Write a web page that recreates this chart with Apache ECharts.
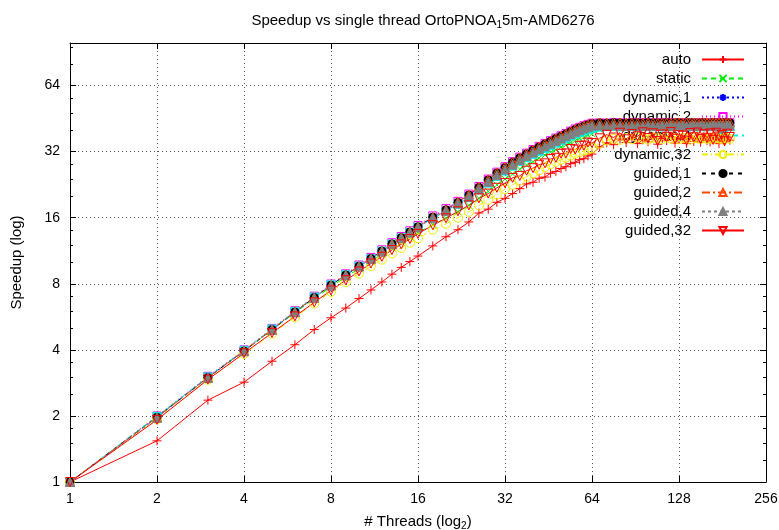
<!DOCTYPE html>
<html>
<head>
<meta charset="utf-8">
<script src="https://cdn.jsdelivr.net/npm/echarts@6/dist/echarts.min.js"></script>
<style>
html, body { margin: 0; padding: 0; background: #fff; overflow: hidden; }
#chart { width: 779px; height: 530px; }
</style>
</head>
<body>
<div id="chart"></div>
<script>
// número de hilos (eje x, log2)
const threads = [1, 2, 3, 4, 5, 6, 7, 8, 9, 10, 11, 12, 13, 14, 15, 16,
  18, 20, 22, 24, 26, 28, 30, 32, 34, 36, 38, 40, 42, 44, 46, 48,
  50, 52, 54, 56, 58, 60, 62, 64,
  68, 72, 76, 80, 84, 88, 92, 96, 100, 104, 108, 112, 116, 120, 124, 128,
  132, 136, 140, 144, 148, 152, 156, 160, 164, 168, 172, 176, 180, 184, 188, 192];

const autoData = [1.00, 1.54, 2.36, 2.85, 3.55, 4.22, 4.95, 5.60, 6.20, 6.85, 7.50, 8.15, 8.85, 9.50, 10.10, 10.70,
  11.9, 13.1, 14.1, 15.3, 16.8, 17.5, 18.8, 19.6, 20.6, 21.7, 22.8, 23.2, 24.2, 24.5, 25.5, 26.0,
  26.8, 27.3, 28.2, 28.6, 29.4, 29.7, 30.6, 31.2,
  33.6, 35.1, 34.4, 36.5, 35.2, 37.0, 34.8, 36.2, 35.5, 37.3, 34.6, 36.8, 35.9, 37.5, 35.0, 36.4,
  36.9, 34.9, 37.2, 35.6, 36.7, 35.3, 37.4, 36.0, 35.4, 37.1, 36.3, 34.8, 36.9, 35.7, 37.2, 36.1];

const staticData = [1.00, 1.99, 3.00, 3.95, 4.93, 5.90, 6.84, 7.75, 8.60, 9.38, 10.12, 10.90, 11.65, 12.35, 13.05, 13.70,
  14.9, 15.9, 17.0, 18.2, 19.6, 21.1, 22.6, 24.0, 25.3, 26.6, 27.8, 28.8, 29.9, 30.9, 31.8, 32.7,
  33.6, 34.4, 35.2, 36.0, 36.7, 37.4, 38.0, 38.6,
  40.4, 40.9, 41.2, 41.0, 41.3, 41.1, 41.2, 41.4, 41.0, 41.3, 41.2, 41.1, 41.4, 41.2, 41.3, 41.0,
  41.2, 41.4, 41.1, 41.3, 41.2, 41.0, 41.3, 41.2, 41.1, 41.3, 41.2, 41.4, 41.0, 41.2, 41.3, 41.1];

const dyn1Data = [1.00, 1.98, 3.00, 3.96, 4.95, 5.96, 6.94, 7.90, 8.79, 9.63, 10.44, 11.30, 12.18, 13.00, 13.80, 14.58,
  16.1, 17.4, 18.8, 20.3, 22.0, 23.7, 25.5, 27.0, 28.5, 29.9, 31.2, 32.3, 33.4, 34.5, 35.5, 36.5,
  37.4, 38.3, 39.3, 40.2, 40.9, 41.6, 42.2, 42.8,
  42.9, 43.0, 42.9, 43.0, 43.1, 42.9, 43.0, 43.0, 42.9, 43.1, 43.0, 42.9, 43.0, 43.1, 43.0, 42.9,
  43.0, 43.0, 43.1, 42.9, 43.0, 43.0, 42.9, 43.1, 43.0, 43.0, 42.9, 43.0, 43.1, 43.0, 42.9, 43.0];

const dyn2Data = [1.00, 2.00, 3.03, 4.00, 5.01, 6.03, 7.02, 7.98, 8.88, 9.74, 10.55, 11.42, 12.31, 13.14, 13.95, 14.75,
  16.3, 17.6, 19.0, 20.5, 22.2, 24.0, 25.8, 27.3, 28.8, 30.2, 31.5, 32.7, 33.8, 34.9, 35.9, 36.9,
  37.8, 38.7, 39.7, 40.6, 41.3, 42.0, 42.6, 43.1,
  43.2, 43.1, 43.3, 43.2, 43.1, 43.2, 43.3, 43.2, 43.1, 43.2, 43.2, 43.3, 43.1, 43.2, 43.2, 43.1,
  43.3, 43.2, 43.1, 43.2, 43.2, 43.3, 43.1, 43.2, 43.2, 43.1, 43.3, 43.2, 43.2, 43.1, 43.2, 43.3];

const dyn4Data = [1.00, 1.99, 3.01, 3.98, 4.98, 5.99, 6.96, 7.91, 8.79, 9.62, 10.42, 11.27, 12.14, 12.94, 13.72, 14.48,
  15.9, 17.1, 18.4, 19.8, 21.4, 23.0, 24.7, 26.1, 27.5, 28.8, 30.0, 31.1, 32.1, 33.1, 34.1, 35.0,
  35.9, 36.8, 37.7, 38.5, 39.2, 39.8, 40.4, 40.9,
  41.4, 41.6, 41.7, 41.5, 41.8, 41.6, 41.7, 41.9, 41.6, 41.7, 41.8, 41.5, 41.7, 41.9, 41.6, 41.7,
  41.8, 41.6, 41.7, 41.9, 41.5, 41.7, 41.8, 41.6, 41.7, 41.9, 41.6, 41.7, 41.8, 41.5, 41.7, 41.6];

const dyn32Data = [1.00, 1.93, 2.92, 3.83, 4.74, 5.62, 6.50, 7.35, 8.15, 8.90, 9.62, 10.30, 11.00, 11.65, 12.30, 12.90,
  14.1, 15.0, 16.0, 17.0, 18.2, 19.3, 20.4, 21.6, 22.6, 23.6, 24.6, 25.5, 26.3, 27.2, 28.0, 28.7,
  29.4, 30.1, 30.7, 31.3, 31.8, 32.3, 32.7, 33.1,
  34.8, 36.0, 36.6, 36.2, 36.9, 36.4, 37.1, 36.7, 36.3, 37.0, 36.8, 36.5, 37.2, 36.6, 36.9, 36.4,
  37.0, 36.7, 36.3, 37.1, 36.8, 36.5, 37.0, 36.6, 36.9, 36.4, 37.1, 36.7, 36.5, 37.0, 36.8, 36.6];

const gui1Data = [1.00, 1.97, 2.99, 3.95, 4.95, 5.95, 6.93, 7.88, 8.78, 9.62, 10.43, 11.28, 12.16, 12.98, 13.78, 14.56,
  16.1, 17.4, 18.8, 20.3, 22.0, 23.8, 25.6, 27.1, 28.6, 30.0, 31.3, 32.5, 33.6, 34.7, 35.7, 36.7,
  37.6, 38.5, 39.5, 40.4, 41.1, 41.8, 42.4, 43.0,
  43.3, 43.2, 43.4, 43.3, 43.2, 43.4, 43.3, 43.2, 43.4, 43.3, 43.2, 43.3, 43.4, 43.2, 43.3, 43.4,
  43.2, 43.3, 43.4, 43.3, 43.2, 43.3, 43.4, 43.2, 43.3, 43.4, 43.2, 43.3, 43.3, 43.4, 43.2, 43.3];

const gui2Data = [1.00, 1.97, 2.99, 3.96, 4.96, 5.96, 6.94, 7.89, 8.79, 9.63, 10.44, 11.29, 12.18, 12.99, 13.79, 14.57,
  16.1, 17.4, 18.9, 20.4, 22.1, 23.9, 25.7, 27.2, 28.7, 30.1, 31.4, 32.6, 33.7, 34.8, 35.8, 36.8,
  37.7, 38.6, 39.6, 40.5, 41.2, 41.9, 42.5, 43.1,
  43.4, 43.3, 43.5, 43.4, 43.3, 43.5, 43.4, 43.3, 43.5, 43.4, 43.3, 43.4, 43.5, 43.3, 43.4, 43.5,
  43.3, 43.4, 43.5, 43.4, 43.3, 43.4, 43.5, 43.3, 43.4, 43.5, 43.3, 43.4, 43.4, 43.5, 43.3, 43.4];

const gui4Data = [1.00, 1.96, 2.98, 3.94, 4.93, 5.93, 6.90, 7.85, 8.74, 9.58, 10.38, 11.22, 12.10, 12.90, 13.70, 14.47,
  15.9, 17.2, 18.6, 20.0, 21.6, 23.3, 25.0, 26.5, 27.9, 29.3, 30.6, 31.7, 32.8, 33.8, 34.8, 35.8,
  36.7, 37.6, 38.5, 39.4, 40.1, 40.8, 41.4, 42.0,
  42.1, 41.9, 42.2, 42.0, 41.8, 42.1, 42.0, 41.9, 42.2, 42.0, 41.8, 42.1, 42.0, 42.2, 41.9, 42.0,
  42.1, 41.8, 42.0, 42.2, 41.9, 42.1, 42.0, 41.8, 42.0, 42.2, 41.9, 42.1, 42.0, 41.8, 42.1, 42.0];

const gui32Data = [1.00, 1.92, 2.93, 3.86, 4.78, 5.68, 6.58, 7.46, 8.30, 9.10, 9.90, 10.62, 11.40, 12.10, 12.80, 13.50,
  14.8, 15.9, 17.1, 18.2, 19.6, 20.6, 21.9, 23.0, 24.3, 24.8, 26.2, 26.9, 27.9, 28.3, 29.6, 30.0,
  31.3, 31.4, 32.9, 32.7, 34.0, 34.1, 35.2, 35.0,
  36.8, 38.2, 37.1, 39.0, 36.4, 38.5, 37.6, 39.2, 36.9, 38.8, 35.8, 38.3, 37.4, 39.3, 36.6, 38.0,
  37.8, 35.9, 38.9, 37.2, 39.1, 36.5, 38.4, 37.0, 38.7, 36.2, 39.0, 37.5, 38.1, 35.7, 38.6, 37.3];

const yTicks = [1, 2, 4, 8, 16, 32, 64];

const FONT = 'Liberation Sans';

const PLUS = 'path://M5,0L5,10M0,5L10,5';
const CROSS = 'path://M0,0L10,10M10,0L0,10';
const STAR = 'path://M5,0L5,10M0,5L10,5M1.5,1.5L8.5,8.5M8.5,1.5L1.5,8.5';
const INVTRI = 'path://M0,0L10,0L5,8.66Z';

const seriesDefs = [
  {name: 'auto', data: autoData, color: '#ff0000', dash: 'solid', symbol: PLUS, fill: false, size: 9},
  {name: 'static', data: staticData, color: '#00ee00', dash: [5, 4], symbol: CROSS, fill: false, size: 7},
  {name: 'dynamic,1', data: dyn1Data, color: '#0000ff', dash: [2, 3], symbol: STAR, fill: false, size: 8},
  {name: 'dynamic,2', data: dyn2Data, color: '#ff00ff', dash: [1, 3], symbol: 'rect', fill: false, size: 8},
  {name: 'dynamic,4', data: dyn4Data, color: '#00eeee', dash: [6, 4], symbol: 'rect', fill: true, size: 8},
  {name: 'dynamic,32', data: dyn32Data, color: '#eeee00', dash: [6, 3, 1, 3], symbol: 'circle', fill: false, size: 9},
  {name: 'guided,1', data: gui1Data, color: '#000000', dash: [4, 5], symbol: 'circle', fill: true, size: 8},
  {name: 'guided,2', data: gui2Data, color: '#ff4500', dash: [8, 3, 2, 3], symbol: 'triangle', fill: false, size: 9},
  {name: 'guided,4', data: gui4Data, color: '#808080', dash: [3, 3], symbol: 'triangle', fill: true, size: 9},
  {name: 'guided,32', data: gui32Data, color: '#ff0000', dash: 'solid', symbol: INVTRI, fill: false, size: 9}
];

const series = seriesDefs.map(function (d) {
  return {
    name: d.name,
    type: 'line',
    data: threads.map(function (t, i) { return [t, d.data[i]]; }),
    symbol: d.symbol,
    symbolSize: d.size,
    showAllSymbol: true,
    color: d.color,
    lineStyle: {color: d.color, width: 1, type: d.dash},
    itemStyle: {
      color: d.fill ? d.color : 'rgba(0,0,0,0)',
      borderColor: d.color,
      borderWidth: 1
    },
    emphasis: {disabled: true},
    animation: false
  };
});

// una leyenda por serie para alinear a la derecha como gnuplot
const legends = seriesDefs.map(function (d, i) {
  return {
    data: [d.name],
    orient: 'vertical',
    right: 34,
    top: 52 + i * 19,
    padding: 0,
    align: 'right',
    itemWidth: 42,
    itemHeight: 9,
    z: 1,
    selectedMode: false,
    textStyle: {fontFamily: FONT, fontSize: 15, color: '#000', padding: [0, 6, 0, 0]}
  };
});

const labelStyle = {fontFamily: FONT, fontSize: 14, color: '#000'};

const chart = echarts.init(document.getElementById('chart'));
chart.setOption({
  backgroundColor: '#fff',
  animation: false,
  title: {
    text: '{a|Speedup vs single thread OrtoPNOA}{s|1}{a|5m-AMD6276}',
    left: 418,
    textAlign: 'center',
    top: 6,
    textStyle: {
      fontWeight: 'normal',
      rich: {
        a: {fontFamily: FONT, fontSize: 15, fontWeight: 'normal', color: '#000'},
        s: {fontFamily: FONT, fontSize: 10, fontWeight: 'normal', color: '#000', padding: [9, 0, 0, 0]}
      }
    }
  },
  legend: legends,
  grid: {left: 70, right: 13, top: 43, bottom: 48, outerBoundsMode: 'none'},
  xAxis: [{
    type: 'log',
    logBase: 2,
    min: 1,
    max: 256,
    name: '{a|# Threads (log}{s|2}{a|)}',
    nameLocation: 'middle',
    nameGap: 30,
    nameTextStyle: {
      rich: {
        a: {fontFamily: FONT, fontSize: 15, color: '#000'},
        s: {fontFamily: FONT, fontSize: 10, color: '#000', padding: [9, 0, 0, 0]}
      }
    },
    axisLine: {lineStyle: {color: '#000', width: 1}},
    axisTick: {inside: true, length: 6, lineStyle: {color: '#000'}},
    axisLabel: Object.assign({margin: 10, formatter: function (v) { return Math.round(v); }}, labelStyle),
    splitLine: {show: true, lineStyle: {color: '#555', type: [1, 3], width: 1}}
  }, {
    type: 'log',
    logBase: 2,
    min: 1,
    max: 256,
    position: 'top',
    axisLine: {lineStyle: {color: '#000', width: 1}},
    axisTick: {inside: true, length: 6, lineStyle: {color: '#000'}},
    axisLabel: {show: false},
    splitLine: {show: false}
  }],
  yAxis: [{
    type: 'log',
    logBase: 2,
    min: 1,
    max: 100,
    name: 'Speedup (log)',
    nameLocation: 'middle',
    nameGap: 46,
    nameTextStyle: {fontFamily: FONT, fontSize: 15, color: '#000'},
    axisLine: {lineStyle: {color: '#000', width: 1}},
    axisTick: {inside: true, length: 6, lineStyle: {color: '#000'}},
    minorTick: {show: true, splitNumber: 4, length: 3, lineStyle: {color: '#000'}},
    axisLabel: Object.assign({
      margin: 10,
      showMaxLabel: false,
      formatter: function (v) {
        const r = Math.round(v);
        return yTicks.indexOf(r) >= 0 ? String(r) : '';
      }
    }, labelStyle),
    splitLine: {show: true, lineStyle: {color: '#555', type: [1, 3], width: 1}}
  }, {
    type: 'log',
    logBase: 2,
    min: 1,
    max: 100,
    position: 'right',
    axisLine: {lineStyle: {color: '#000', width: 1}},
    axisTick: {inside: true, length: 6, lineStyle: {color: '#000'}},
    minorTick: {show: true, splitNumber: 4, length: 3, lineStyle: {color: '#000'}},
    axisLabel: {show: false},
    splitLine: {show: false}
  }],
  series: series
});
</script>
</body>
</html>
